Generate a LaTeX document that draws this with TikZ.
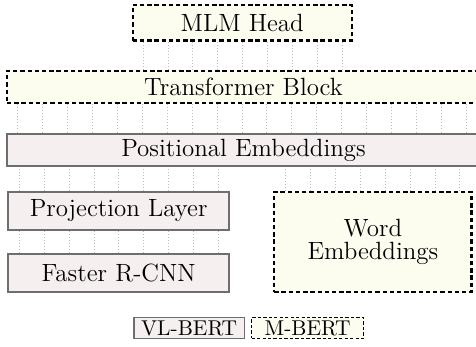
\documentclass[tikz,border=0pt]{standalone}
\usepackage{tikz}
\usetikzlibrary{positioning}
\usepackage{xcolor}
\definecolor{vlfill}{HTML}{F5EFEF}
\definecolor{vlline}{HTML}{6E6E6E}
\definecolor{mfill}{HTML}{FCFCEF}

\begin{document}
\begin{tikzpicture}[
    font=\fontsize{11.4pt}{13pt}\selectfont,
    vlbox/.style={draw=vlline, fill=vlfill, line width=0.8pt, inner sep=0pt},
    mbox/.style={draw=black, fill=mfill, line width=1pt, dash pattern=on 2pt off 1.3pt, inner sep=0pt},
    tie/.style={gray!55, densely dotted, line width=0.4pt},
    keyfont/.style={font=\fontsize{9.8pt}{12pt}\selectfont}
  ]
    \useasboundingbox (-0.112,0) rectangle (7.535,-5.574);

    \node (mlm) at (3.78,-0.367) [mbox, minimum width=3.52cm, minimum height=0.57cm]{MLM Head};
    \node (tfm) at (3.8,-1.398) [mbox, minimum width=7.6cm, minimum height=0.51cm]{Transformer Block};
    \node (pos) at (3.8,-2.41) [vlbox, minimum width=7.6cm, minimum height=0.52cm]{Positional Embeddings};
    \node (proj) at (1.794,-3.39) [vlbox, minimum width=3.55cm, minimum height=0.615cm]{Projection Layer};
    \node (rcnn) at (1.794,-4.386) [vlbox, minimum width=3.55cm, minimum height=0.615cm]{Faster R-CNN};
    \node (word) at (5.879,-3.888) [mbox, minimum width=3.17cm, minimum height=1.6cm, align=center,
      font=\fontsize{11.4pt}{10.8pt}\selectfont]{Word\\Embeddings};

    % key
    \node (vlkey) at (2.926,-5.271) [vlbox, keyfont, line width=0.6pt, minimum width=1.77cm, minimum height=0.33cm]{VL-BERT};
    \node (mkey) [right=0.1cm of vlkey, mbox, keyfont, line width=0.5pt, dash pattern=on 1.5pt off 1pt, minimum width=1.8cm, minimum height=0.33cm]{M-BERT};

    % dotted ties between layers
    \foreach \i in {0,...,8}
      \draw[tie] ([xshift=\i*0.4cm+0.185cm]mlm.south west) coordinate (t) -- (t |- tfm.north);
    \foreach \i in {0,...,18}
      \draw[tie] ([xshift=\i*0.4cm+0.193cm]tfm.south west) coordinate (t) -- (t |- pos.north);
    \foreach \i in {0,...,8}
      \draw[tie] ([xshift=\i*0.4cm+0.193cm]proj.north west) coordinate (t) -- (t |- pos.south);
    \foreach \i in {0,...,7}
      \draw[tie] ([xshift=\i*0.4cm+0.2cm]word.north west) coordinate (t) -- (t |- pos.south);
    \foreach \i in {0,...,8}
      \draw[tie] ([xshift=\i*0.4cm+0.193cm]rcnn.north west) coordinate (t) -- (t |- proj.south);
\end{tikzpicture}
\end{document}
